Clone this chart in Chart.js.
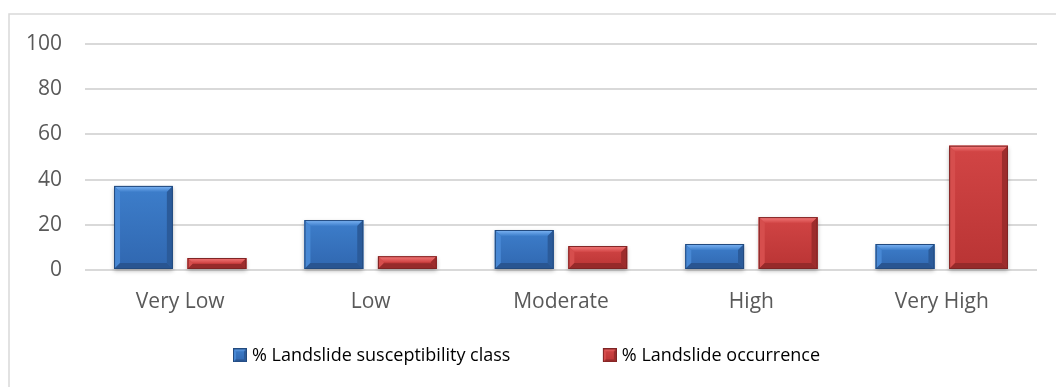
<!DOCTYPE html>
<html>
<head>
<meta charset="utf-8">
<script src="https://cdn.jsdelivr.net/npm/chart.js@4.4.1/dist/chart.umd.min.js"></script>
<style>
  html, body { margin: 0; padding: 0; background: #ffffff; overflow: hidden; }
  #wrap { position: relative; width: 1056px; height: 387px; }
</style>
</head>
<body>
<div id="wrap"><canvas id="chart" width="1056" height="387"></canvas></div>
<script>
// Landslide susceptibility classes and their shares (%)
const categories = ['Very Low', 'Low', 'Moderate', 'High', 'Very High'];
const susceptibilityPct = [37.2, 22.1, 17.7, 11.5, 11.5];
const occurrencePct = [5.3, 6.1, 10.6, 23.4, 55.0];
const yTickValues = [0, 20, 40, 60, 80, 100];
const seriesNames = ['% Landslide susceptibility class', '% Landslide occurrence'];

const FONT = '"Open Sans", "Noto Sans", sans-serif';
const TEXT = '#595959';

const palettes = [
  { face: '#3d7ecb', faceDark: '#3067b0', light: '#80b7f6', side: '#4888d4', dark: '#2b5b9a', bottom: '#295591', edge: '#234a7e' },
  { face: '#d24545', faceDark: '#b93434', light: '#f47c7c', side: '#d64e4d', dark: '#9d2c2c', bottom: '#962a2a', edge: '#7e2424' }
];

function poly(ctx, pts, fill) {
  ctx.beginPath();
  ctx.moveTo(pts[0][0], pts[0][1]);
  for (let i = 1; i < pts.length; i++) ctx.lineTo(pts[i][0], pts[i][1]);
  ctx.closePath();
  ctx.fillStyle = fill;
  ctx.fill();
}

// Bevelled box: face gradient, lit top edge, darker right/bottom edges
function bevelBox(ctx, l, t, r, b, pal, bevel) {
  const w = r - l, h = b - t;
  if (w <= 0 || h <= 0) return;
  const bv = Math.min(bevel, h / 2.2, w / 2.2);
  const g = ctx.createLinearGradient(0, t, 0, b);
  g.addColorStop(0, pal.face);
  g.addColorStop(1, pal.faceDark);
  ctx.fillStyle = g;
  ctx.fillRect(l, t, w, h);
  const tg = ctx.createLinearGradient(0, t, 0, t + bv);
  tg.addColorStop(0, pal.light);
  tg.addColorStop(1, pal.face);
  poly(ctx, [[l, t], [r, t], [r - bv, t + bv], [l + bv, t + bv]], tg);
  poly(ctx, [[l, t], [l + bv, t + bv], [l + bv, b - bv], [l, b]], pal.side);
  poly(ctx, [[r, t], [r, b], [r - bv, b - bv], [r - bv, t + bv]], pal.dark);
  poly(ctx, [[l, b], [l + bv, b - bv], [r - bv, b - bv], [r, b]], pal.bottom);
  ctx.strokeStyle = pal.edge;
  ctx.lineWidth = 1;
  ctx.strokeRect(l + 0.5, t + 0.5, w - 1, h - 1);
}

// Legend swatches: a bevelled square at the right end of a wider transparent slot
const SWATCH = 14;
const SWATCH_SLOT = 26;          // legend box width reserved before the text
const SWATCH_IMG = SWATCH_SLOT + 8;
function makeSwatch(pal) {
  const c = document.createElement('canvas');
  c.width = SWATCH_IMG;
  c.height = SWATCH;
  const cx = c.getContext('2d');
  bevelBox(cx, SWATCH_IMG - SWATCH, 0, SWATCH_IMG, SWATCH, pal, 3);
  return c;
}
const swatches = palettes.map(makeSwatch);

const frame = {
  id: 'frame',
  beforeDraw(chart) {
    const ctx = chart.ctx;
    ctx.save();
    ctx.fillStyle = '#ffffff';
    ctx.fillRect(0, 0, chart.width, chart.height);
    ctx.strokeStyle = '#d9d9d9';
    ctx.lineWidth = 1.5;
    ctx.strokeRect(9, 14, chart.width + 20, chart.height + 20);
    ctx.restore();
  }
};

const bevelBars = {
  id: 'bevelBars',
  beforeDatasetsDraw(chart) {
    const ctx = chart.ctx;
    ctx.save();
    chart.data.datasets.forEach((ds, i) => {
      chart.getDatasetMeta(i).data.forEach(bar => {
        const { x, y, base, width } = bar.getProps(['x', 'y', 'base', 'width'], true);
        ctx.shadowColor = 'rgba(0,0,0,0.28)';
        ctx.shadowBlur = 4;
        ctx.shadowOffsetY = 2;
        ctx.fillStyle = '#ffffff';
        ctx.fillRect(x - width / 2, y, width, base - y);
      });
    });
    ctx.restore();
  },
  afterDatasetsDraw(chart) {
    const ctx = chart.ctx;
    ctx.save();
    chart.data.datasets.forEach((ds, i) => {
      const pal = palettes[i];
      chart.getDatasetMeta(i).data.forEach(bar => {
        const { x, y, base, width } = bar.getProps(['x', 'y', 'base', 'width'], true);
        bevelBox(ctx, x - width / 2, y, x + width / 2, base, pal, 6);
      });
    });
    ctx.restore();
  }
};

new Chart(document.getElementById('chart'), {
  type: 'bar',
  data: {
    labels: categories,
    datasets: [
      { label: seriesNames[0], data: susceptibilityPct, backgroundColor: palettes[0].face, borderWidth: 0 },
      { label: seriesNames[1], data: occurrencePct, backgroundColor: palettes[1].face, borderWidth: 0 }
    ]
  },
  options: {
    responsive: false,
    devicePixelRatio: 1,
    animation: false,
    datasets: { bar: { categoryPercentage: 0.772, barPercentage: 0.8 } },
    layout: { padding: { left: 0, right: 19, top: 44, bottom: 12.6 } },
    scales: {
      x: {
        grid: { display: false, drawTicks: false },
        border: { display: false },
        // labels hang below the baseline; the axis itself takes no layout height
        ticks: { color: TEXT, font: { family: FONT, size: 21 }, mirror: true, padding: -45, maxRotation: 0, autoSkip: false },
        afterFit(scale) { scale.height = 0; }
      },
      y: {
        min: 0,
        max: 100,
        afterBuildTicks(scale) { scale.ticks = yTickValues.map(v => ({ value: v })); },
        grid: { color: '#d9d9d9', lineWidth: 2, drawTicks: false },
        border: { display: false },
        ticks: { color: TEXT, font: { family: FONT, size: 21 }, padding: 23 },
        afterFit(scale) { scale.width = 85; }
      }
    },
    plugins: {
      legend: {
        position: 'bottom',
        labels: {
          usePointStyle: true,
          pointStyleWidth: SWATCH_SLOT,
          boxHeight: SWATCH,
          padding: 76.4,
          color: TEXT,
          font: { family: FONT, size: 18 },
          generateLabels(chart) {
            return chart.data.datasets.map((ds, i) => ({
              text: ds.label,
              fillStyle: palettes[i].face,
              strokeStyle: palettes[i].edge,
              lineWidth: 0,
              pointStyle: swatches[i],
              hidden: false,
              datasetIndex: i
            }));
          }
        }
      },
      tooltip: { enabled: false }
    }
  },
  plugins: [frame, bevelBars]
});
</script>
</body>
</html>
